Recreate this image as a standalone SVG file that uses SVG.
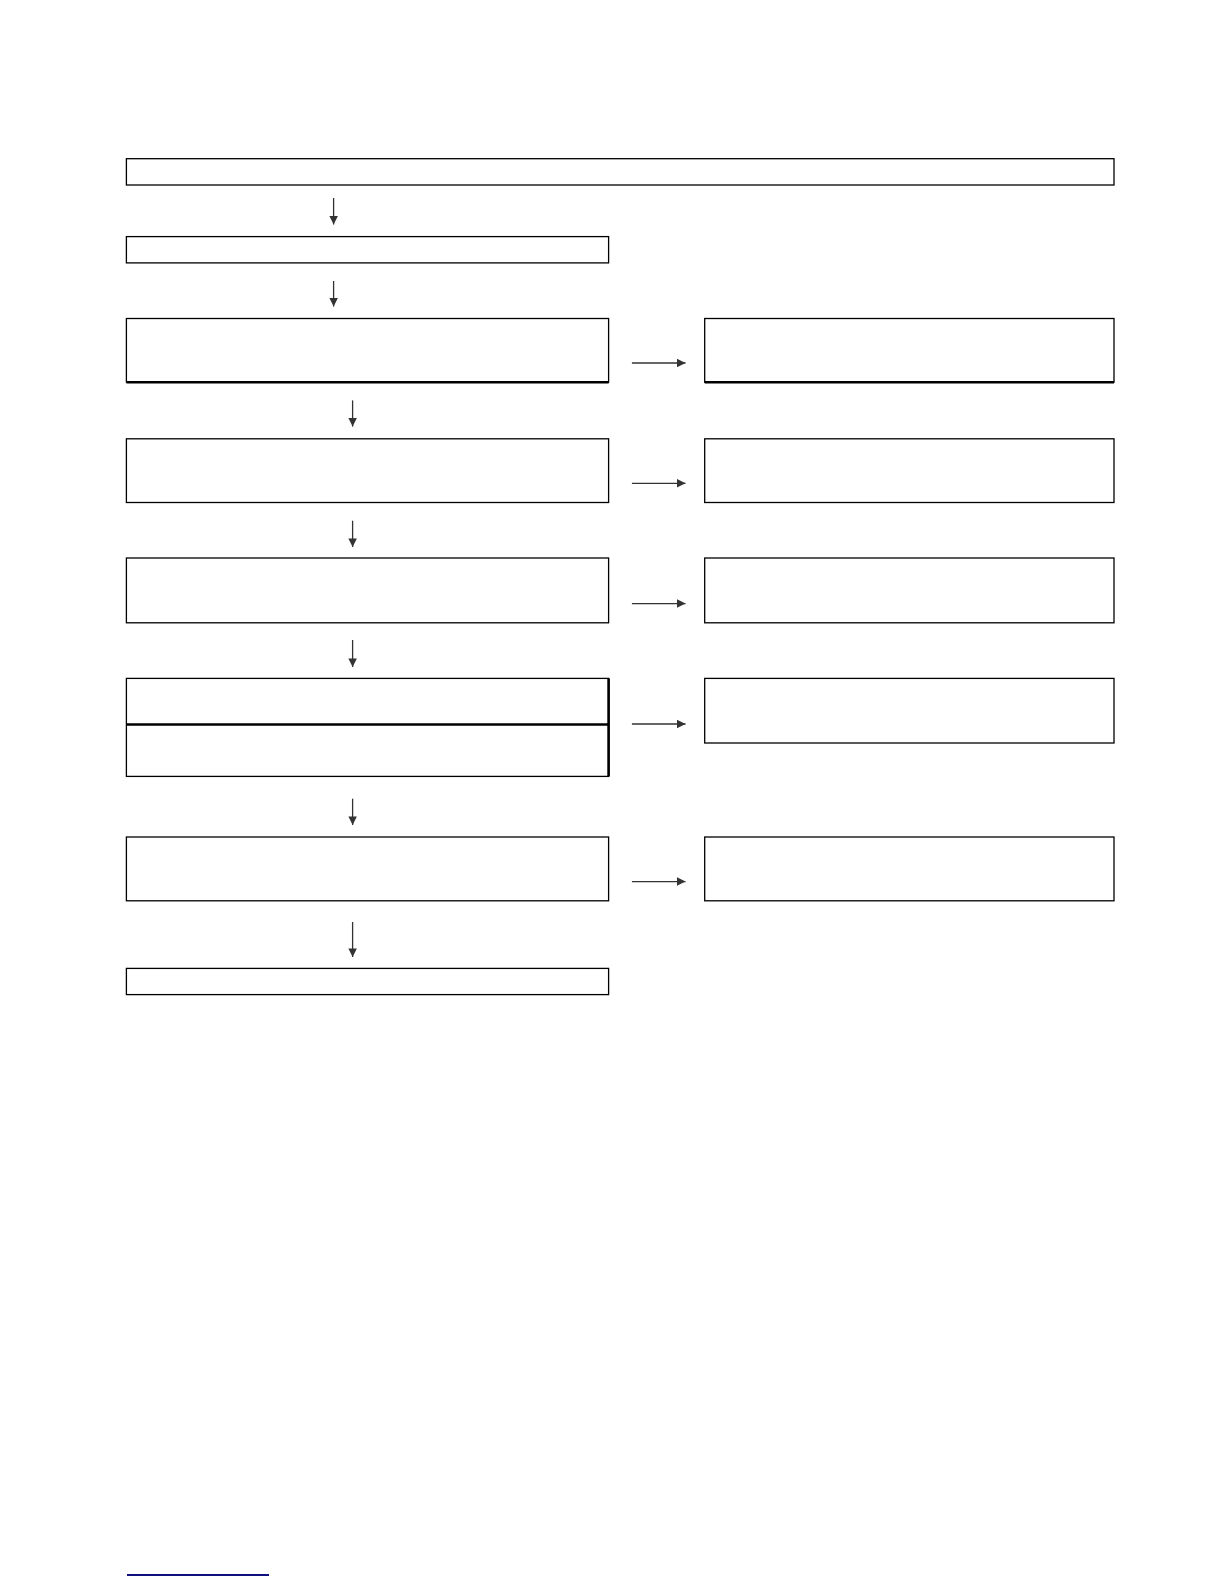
<svg xmlns="http://www.w3.org/2000/svg" width="1224" height="1584" viewBox="0 0 1224 1584">
<style>
.box{fill:#fff;stroke:#000;stroke-width:1.3}
.thick{stroke:#000;stroke-width:2.6;fill:none}
.conn{stroke:#333;stroke-width:1.3;fill:none}
</style>
<defs>
<marker id="ah" viewBox="0 0 10 10" refX="10" refY="5" markerWidth="9.5" markerHeight="8.5" markerUnits="userSpaceOnUse" orient="auto">
<path d="M0,0 L10,5 L0,10 z" fill="#333"/>
</marker>
</defs>
<rect width="1224" height="1584" fill="#fff"/>
<g id="n1"><rect class="box" x="126.4" y="158.7" width="987.6" height="26.3"/></g>
<g id="n2"><rect class="box" x="126.4" y="236.6" width="482.2" height="26.3"/></g>
<g id="n3"><rect class="box" x="126.4" y="318.5" width="482.2" height="63.7"/><line class="thick" x1="126.4" y1="382.2" x2="608.6" y2="382.2"/></g>
<g id="n3r"><rect class="box" x="704.7" y="318.5" width="409.3" height="63.7"/><line class="thick" x1="704.7" y1="382.2" x2="1114" y2="382.2"/></g>
<g id="n4"><rect class="box" x="126.4" y="438.8" width="482.2" height="63.7"/></g>
<g id="n4r"><rect class="box" x="704.7" y="438.8" width="409.3" height="63.7"/></g>
<g id="n5"><rect class="box" x="126.4" y="558" width="482.2" height="64.8"/></g>
<g id="n5r"><rect class="box" x="704.7" y="558" width="409.3" height="64.8"/></g>
<g id="n6"><rect class="box" x="126.4" y="678.4" width="482.2" height="98"/><line class="thick" x1="126.4" y1="724.5" x2="608.6" y2="724.5"/><line class="thick" x1="608.6" y1="678.4" x2="608.6" y2="776.4"/></g>
<g id="n6r"><rect class="box" x="704.7" y="678.4" width="409.3" height="64.6"/></g>
<g id="n7"><rect class="box" x="126.4" y="837" width="482.2" height="63.8"/></g>
<g id="n7r"><rect class="box" x="704.7" y="837" width="409.3" height="63.8"/></g>
<g id="n8"><rect class="box" x="126.4" y="968.4" width="482.2" height="26.2"/></g>
<g id="connectors">
<line class="conn" x1="333.6" y1="198" x2="333.6" y2="224.5" marker-end="url(#ah)"/>
<line class="conn" x1="333.6" y1="281" x2="333.6" y2="306.5" marker-end="url(#ah)"/>
<line class="conn" x1="352.6" y1="400.4" x2="352.6" y2="426.6" marker-end="url(#ah)"/>
<line class="conn" x1="352.6" y1="520.7" x2="352.6" y2="547" marker-end="url(#ah)"/>
<line class="conn" x1="352.6" y1="640" x2="352.6" y2="667" marker-end="url(#ah)"/>
<line class="conn" x1="352.6" y1="798.7" x2="352.6" y2="825" marker-end="url(#ah)"/>
<line class="conn" x1="352.6" y1="922" x2="352.6" y2="957" marker-end="url(#ah)"/>
<line class="conn" x1="631.9" y1="363" x2="685.5" y2="363" marker-end="url(#ah)"/>
<line class="conn" x1="631.9" y1="483.3" x2="685.5" y2="483.3" marker-end="url(#ah)"/>
<line class="conn" x1="631.9" y1="603.6" x2="685.5" y2="603.6" marker-end="url(#ah)"/>
<line class="conn" x1="631.9" y1="724" x2="685.5" y2="724" marker-end="url(#ah)"/>
<line class="conn" x1="631.9" y1="881.6" x2="685.5" y2="881.6" marker-end="url(#ah)"/>
</g>
<line x1="127" y1="1575" x2="269" y2="1575" stroke="#10107e" stroke-width="1.8"/>
</svg>
